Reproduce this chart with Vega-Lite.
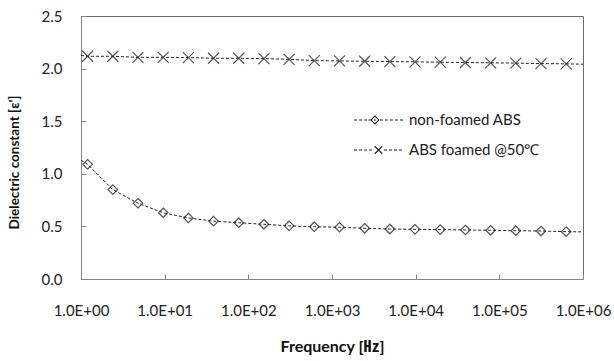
{
  "$schema": "https://vega.github.io/schema/vega-lite/v6.json",
  "width": 502,
  "height": 263,
  "autosize": "none",
  "padding": {"left": 81, "top": 16, "right": 31, "bottom": 82},
  "background": "white",
  "config": {
    "view": {"stroke": "#6a6a6a", "strokeWidth": 1},
    "font": "Lato"
  },
  "data": {
    "values": [
      {"f": 1, "eps": 1.13, "series": "non-foamed ABS", "m": false},
      {"f": 1.2, "eps": 1.09, "series": "non-foamed ABS", "m": true},
      {"f": 2.4, "eps": 0.85, "series": "non-foamed ABS", "m": true},
      {"f": 4.8, "eps": 0.72, "series": "non-foamed ABS", "m": true},
      {"f": 9.6, "eps": 0.63, "series": "non-foamed ABS", "m": true},
      {"f": 19.2, "eps": 0.58, "series": "non-foamed ABS", "m": true},
      {"f": 38.4, "eps": 0.55, "series": "non-foamed ABS", "m": true},
      {"f": 76.8, "eps": 0.535, "series": "non-foamed ABS", "m": true},
      {"f": 153.6, "eps": 0.52, "series": "non-foamed ABS", "m": true},
      {"f": 307.2, "eps": 0.505, "series": "non-foamed ABS", "m": true},
      {"f": 614.4, "eps": 0.497, "series": "non-foamed ABS", "m": true},
      {"f": 1228.8, "eps": 0.492, "series": "non-foamed ABS", "m": true},
      {"f": 2457.6, "eps": 0.482, "series": "non-foamed ABS", "m": true},
      {"f": 4915.2, "eps": 0.475, "series": "non-foamed ABS", "m": true},
      {"f": 9830.4, "eps": 0.472, "series": "non-foamed ABS", "m": true},
      {"f": 19660.8, "eps": 0.47, "series": "non-foamed ABS", "m": true},
      {"f": 39321.6, "eps": 0.466, "series": "non-foamed ABS", "m": true},
      {"f": 78643.2, "eps": 0.463, "series": "non-foamed ABS", "m": true},
      {"f": 157286.4, "eps": 0.459, "series": "non-foamed ABS", "m": true},
      {"f": 314572.8, "eps": 0.456, "series": "non-foamed ABS", "m": true},
      {"f": 629145.6, "eps": 0.45, "series": "non-foamed ABS", "m": true},
      {"f": 1000000, "eps": 0.448, "series": "non-foamed ABS", "m": false},
      {"f": 1, "eps": 2.125, "series": "ABS foamed @50℃", "m": false},
      {"f": 1.2, "eps": 2.117, "series": "ABS foamed @50℃", "m": true},
      {"f": 2.4, "eps": 2.117, "series": "ABS foamed @50℃", "m": true},
      {"f": 4.8, "eps": 2.107, "series": "ABS foamed @50℃", "m": true},
      {"f": 9.6, "eps": 2.107, "series": "ABS foamed @50℃", "m": true},
      {"f": 19.2, "eps": 2.105, "series": "ABS foamed @50℃", "m": true},
      {"f": 38.4, "eps": 2.098, "series": "ABS foamed @50℃", "m": true},
      {"f": 76.8, "eps": 2.098, "series": "ABS foamed @50℃", "m": true},
      {"f": 153.6, "eps": 2.095, "series": "ABS foamed @50℃", "m": true},
      {"f": 307.2, "eps": 2.088, "series": "ABS foamed @50℃", "m": true},
      {"f": 614.4, "eps": 2.076, "series": "ABS foamed @50℃", "m": true},
      {"f": 1228.8, "eps": 2.073, "series": "ABS foamed @50℃", "m": true},
      {"f": 2457.6, "eps": 2.07, "series": "ABS foamed @50℃", "m": true},
      {"f": 4915.2, "eps": 2.067, "series": "ABS foamed @50℃", "m": true},
      {"f": 9830.4, "eps": 2.064, "series": "ABS foamed @50℃", "m": true},
      {"f": 19660.8, "eps": 2.061, "series": "ABS foamed @50℃", "m": true},
      {"f": 39321.6, "eps": 2.058, "series": "ABS foamed @50℃", "m": true},
      {"f": 78643.2, "eps": 2.055, "series": "ABS foamed @50℃", "m": true},
      {"f": 157286.4, "eps": 2.052, "series": "ABS foamed @50℃", "m": true},
      {"f": 314572.8, "eps": 2.048, "series": "ABS foamed @50℃", "m": true},
      {"f": 629145.6, "eps": 2.045, "series": "ABS foamed @50℃", "m": true},
      {"f": 1000000, "eps": 2.042, "series": "ABS foamed @50℃", "m": false}
    ]
  },
  "encoding": {
    "x": {
      "field": "f",
      "type": "quantitative",
      "scale": {"type": "log", "domain": [1, 1000000], "nice": false},
      "axis": {
        "title": "Frequency [㎐]",
        "titleFont": "Lato, Noto Sans CJK KR",
        "titleFontSize": 16,
        "titleFontWeight": "bold",
        "titleColor": "#111",
        "titleX": 251,
        "titleY": 67,
        "titleAlign": "center",
        "titleBaseline": "middle",
        "values": [1, 10, 100, 1000, 10000, 100000, 1000000],
        "labelExpr": "'1.0E+0' + round(log(datum.value) / LN10)",
        "labelFontSize": 15,
        "labelColor": "#222",
        "labelPadding": 29,
        "labelFlush": false,
        "labelOverlap": false,
        "tickSize": -5,
        "tickColor": "#868686",
        "domainColor": "#868686",
        "grid": false
      }
    },
    "y": {
      "field": "eps",
      "type": "quantitative",
      "scale": {"domain": [0, 2.5], "nice": false, "zero": true},
      "axis": {
        "title": "Dielectric constant [ε']",
        "titleFontSize": 13.5,
        "titleFontWeight": "bold",
        "titleColor": "#111",
        "titleX": -67,
        "titleY": 146,
        "titleAlign": "center",
        "titleBaseline": "middle",
        "titleAngle": -90,
        "values": [0, 0.5, 1, 1.5, 2, 2.5],
        "format": ".1f",
        "labelFontSize": 15,
        "labelColor": "#222",
        "labelPadding": 24,
        "tickSize": -5,
        "tickColor": "#868686",
        "domainColor": "#868686",
        "grid": false
      }
    }
  },
  "layer": [
    {
      "transform": [{"filter": "datum.m && datum.series === 'non-foamed ABS'"}],
      "mark": {"type": "point", "filled": false, "strokeWidth": 1.2, "color": "#555", "size": 100, "opacity": 1, "shape": "M0,-0.95L0.95,0L0,0.95L-0.95,0Z"}
    },
    {
      "transform": [{"filter": "datum.m && datum.series !== 'non-foamed ABS'"}],
      "mark": {"type": "point", "filled": false, "strokeWidth": 1.2, "color": "#555", "size": 100, "opacity": 1, "shape": "M-1.1,-1.1L1.1,1.1M-1.1,1.1L1.1,-1.1"}
    },
    {
      "mark": {"type": "line", "strokeDash": [3, 2], "strokeWidth": 1},
      "encoding": {
        "color": {
          "field": "series",
          "type": "nominal",
          "scale": {"domain": ["non-foamed ABS", "ABS foamed @50℃"], "range": ["#222", "#222"]},
          "legend": {
            "orient": "none",
            "legendX": 272,
            "legendY": 96,
            "title": null,
            "symbolSize": 2500,
            "clipHeight": 16,
            "rowPadding": 14,
            "labelOffset": 4,
            "labelFont": "Lato",
            "labelFontSize": 15,
            "labelColor": "#222",
            "padding": 0,
            "symbolStrokeWidth": 1,
            "encode": {
              "symbols": {
                "update": {
                  "size": {"value": 2500},
                  "strokeWidth": {"value": 1.1},
                  "stroke": {"value": "#333"},
                  "fill": {"value": "transparent"},
                  "strokeDash": {"value": []},
                  "shape": {"signal": "datum.value === 'non-foamed ABS' ? 'M-1,0L-0.88,0M-0.8,0L-0.68,0M-0.6,0L-0.48,0M-0.42,0L-0.34,0M-0.32,0L-0.16,-0.16L0,0L-0.16,0.16ZM-0.2,0L-0.12,0M0.04,0L0.16,0M0.24,0L0.36,0M0.44,0L0.56,0M0.64,0L0.76,0M0.84,0L0.96,0' : 'M-1,0L-0.88,0M-0.8,0L-0.68,0M-0.6,0L-0.48,0M-0.4,0L-0.28,0M-0.17,-0.15L0.13,0.15M-0.17,0.15L0.13,-0.15M-0.06,0L0.02,0M0.2,0L0.32,0M0.4,0L0.52,0M0.6,0L0.72,0M0.8,0L0.92,0'"}
                }
              }
            }
          }
        }
      }
    }
  ]
}
